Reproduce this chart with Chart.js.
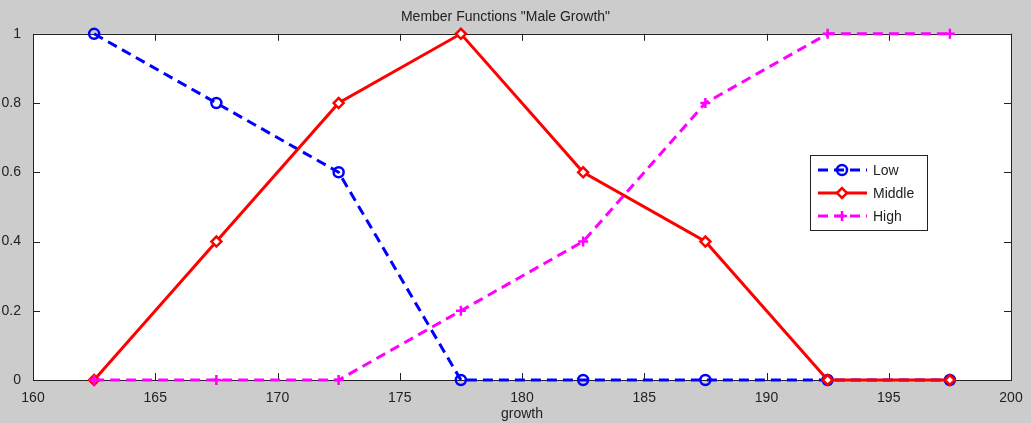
<!DOCTYPE html>
<html>
<head>
<meta charset="utf-8">
<script src="https://cdn.jsdelivr.net/npm/chart.js@4"></script>
<style>
  html, body { margin: 0; padding: 0; background: #cccccc; }
  #wrap { width: 1031px; height: 423px; position: relative; }
</style>
</head>
<body>
<div id="wrap"><canvas id="graph" width="1031" height="423"></canvas></div>
<script>
// data
const growth = [162.5, 167.5, 172.5, 177.5, 182.5, 187.5, 192.5, 197.5];
const low    = [1, 0.8, 0.6, 0, 0, 0, 0, 0];
const middle = [0, 0.4, 0.8, 1, 0.6, 0.4, 0, 0];
const high   = [0, 0, 0, 0.2, 0.4, 0.8, 1, 1];
const xTicks = [160, 165, 170, 175, 180, 185, 190, 195, 200];
const yTicks = [0, 0.2, 0.4, 0.6, 0.8, 1];

const FONT = 'Liberation Sans, Arial, sans-serif';

function pts(ys) {
  return growth.map((x, i) => ({ x: x, y: ys[i] }));
}

// gray figure background, box round the axes, inward ticks, legend
const matlabLook = {
  id: 'matlabLook',
  beforeDraw(chart) {
    const c = chart.ctx;
    c.save();
    c.fillStyle = '#cccccc';
    c.fillRect(0, 0, chart.width, chart.height);
    const a = chart.chartArea;
    c.fillStyle = '#fff';
    c.fillRect(a.left, a.top, a.right - a.left, a.bottom - a.top);
    c.restore();
  },
  beforeDatasetsDraw(chart) {
    const c = chart.ctx;
    const a = chart.chartArea;
    const xs = chart.scales.x, ys = chart.scales.y;
    c.save();
    c.strokeStyle = '#222';
    c.lineWidth = 1;
    c.beginPath();
    xs.ticks.forEach(t => {
      const px = Math.round(xs.getPixelForValue(t.value)) + 0.5;
      c.moveTo(px, a.bottom); c.lineTo(px, a.bottom - 7);
      c.moveTo(px, a.top); c.lineTo(px, a.top + 7);
    });
    ys.ticks.forEach(t => {
      const py = Math.round(ys.getPixelForValue(t.value)) + 0.5;
      c.moveTo(a.left, py); c.lineTo(a.left + 7, py);
      c.moveTo(a.right, py); c.lineTo(a.right - 7, py);
    });
    c.stroke();
    c.strokeRect(Math.round(a.left) + 0.5, Math.round(a.top) + 0.5,
      Math.round(a.right - a.left), Math.round(a.bottom - a.top));
    c.restore();
  },
  afterDraw(chart) {
    const c = chart.ctx;
    const bx = 810, by = 155, bw = 117, bh = 75;
    c.save();
    c.fillStyle = '#fff';
    c.fillRect(bx, by, bw, bh);
    c.strokeStyle = '#222';
    c.lineWidth = 1;
    c.strokeRect(bx + 0.5, by + 0.5, bw, bh);
    [0, 1, 2].forEach(i => {
      const ds = chart.data.datasets[i];
      const y = by + 15 + i * 23;
      c.strokeStyle = ds.borderColor;
      c.lineWidth = ds.borderWidth;
      c.setLineDash(ds.borderDash || []);
      c.beginPath();
      c.moveTo(818, y); c.lineTo(867, y);
      c.stroke();
      c.setLineDash([]);
      c.strokeStyle = ds.pointBorderColor;
      c.fillStyle = ds.pointBackgroundColor;
      c.lineWidth = ds.pointBorderWidth;
      Chart.helpers.drawPoint(c, {
        pointStyle: ds.pointStyle, radius: ds.pointRadius,
        borderWidth: ds.pointBorderWidth, rotation: 0
      }, 842, y);
      c.fillStyle = '#222';
      c.font = '14px ' + FONT;
      c.textBaseline = 'middle';
      c.fillText(ds.label, 873, y + 1);
    });
    c.restore();
  }
};

function series(label, data, color, style, dash, fill, order) {
  return {
    label: label,
    data: pts(data),
    borderColor: color,
    backgroundColor: 'rgba(0,0,0,0)',
    borderWidth: 3,
    borderDash: dash,
    pointStyle: style,
    pointRadius: 5,
    pointBorderWidth: 2.5,
    pointBorderColor: color,
    pointBackgroundColor: fill,
    tension: 0,
    clip: false,
    order: order
  };
}

new Chart(document.getElementById('graph'), {
  type: 'line',
  data: {
    datasets: [
      series('Low', low, '#0000ff', 'circle', [10, 6], 'rgba(0,0,0,0)', 2),
      series('Middle', middle, '#ff0000', 'rectRot', [], '#ffffff', 1),
      series('High', high, '#ff00ff', 'cross', [10, 6], 'rgba(0,0,0,0)', 0)
    ]
  },
  plugins: [matlabLook],
  options: {
    responsive: false,
    animation: false,
    layout: { padding: { left: 0, top: 6, right: 20, bottom: 0 } },
    plugins: {
      legend: { display: false },
      tooltip: { enabled: false },
      title: {
        display: true,
        text: 'Member Functions "Male Growth"',
        color: '#222',
        font: { family: FONT, size: 14, weight: 'normal' },
        padding: { top: 3, bottom: 8 }
      }
    },
    scales: {
      x: {
        type: 'linear',
        min: 160, max: 200,
        afterBuildTicks: s => { s.ticks = xTicks.map(v => ({ value: v })); },
        afterFit: s => { s.height = 43; },
        grid: { display: false },
        border: { display: false },
        ticks: {
          color: '#222', padding: 2, maxRotation: 0,
          font: { family: FONT, size: 14 },
          callback: v => String(v)
        },
        title: {
          display: true, text: 'growth', color: '#222',
          font: { family: FONT, size: 14 }, padding: { top: 0, bottom: 0 }
        }
      },
      y: {
        min: 0, max: 1,
        afterBuildTicks: s => { s.ticks = yTicks.map(v => ({ value: v })); },
        afterFit: s => { s.width = 33; },
        grid: { display: false },
        border: { display: false },
        ticks: {
          color: '#222', padding: 4,
          font: { family: FONT, size: 14 },
          callback: v => String(Math.round(v * 10) / 10)
        }
      }
    }
  }
});
</script>
</body>
</html>
